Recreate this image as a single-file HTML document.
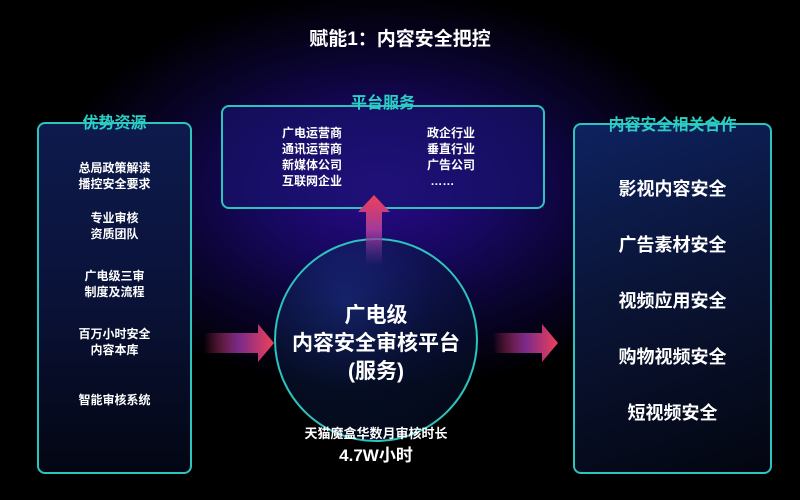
<!DOCTYPE html>
<html><head><meta charset="utf-8"><style>
*{margin:0;padding:0;box-sizing:border-box}
body{width:800px;height:500px;overflow:hidden;background:#000;font-family:"Liberation Sans","Noto Sans CJK SC",sans-serif;color:#fff;font-weight:bold}
#bg{position:absolute;left:0;top:0;width:800px;height:500px;background:radial-gradient(ellipse 330px 200px at 380px 190px,#2a0a8a 0%,#170860 35%,#0a0430 65%,#000 100%)}
.box{position:absolute;border:2px solid #2cc4bd;border-radius:8px}
.t{position:absolute;text-align:center;white-space:nowrap}
.h{color:#2ccfc5;font-size:16px}
</style></head><body>
<div id="bg"></div>
<div class="t" style="left:0;width:800px;top:24px;font-size:19px">赋能1：内容安全把控</div>

<div class="box" style="left:37px;top:122px;width:155px;height:352px;background:linear-gradient(180deg,#0d1a4c 0%,#0a1238 50%,#030612 100%)"></div>
<div class="t h" style="left:37px;width:155px;top:109px">优势资源</div>
<div class="t" style="left:37px;width:155px;top:160px;font-size:12px;line-height:16px">总局政策解读<br>播控安全要求</div>
<div class="t" style="left:37px;width:155px;top:210px;font-size:12px;line-height:16px">专业审核<br>资质团队</div>
<div class="t" style="left:37px;width:155px;top:268px;font-size:12px;line-height:16px">广电级三审<br>制度及流程</div>
<div class="t" style="left:37px;width:155px;top:326px;font-size:12px;line-height:16px">百万小时安全<br>内容本库</div>
<div class="t" style="left:37px;width:155px;top:392px;font-size:12px;line-height:16px">智能审核系统</div>

<div class="box" style="left:221px;top:105px;width:324px;height:104px;background:rgba(25,20,110,0.6)"></div>
<div class="t h" style="left:221px;width:324px;top:89px">平台服务</div>
<div class="t" style="left:282px;top:125px;font-size:12px;line-height:16px;text-align:left">广电运营商<br>通讯运营商<br>新媒体公司<br>互联网企业</div>
<div class="t" style="left:427px;top:125px;font-size:12px;line-height:16px;text-align:left">政企行业<br>垂直行业<br>广告公司<br>&nbsp;……</div>

<div class="box" style="left:573px;top:123px;width:199px;height:351px;background:linear-gradient(160deg,#0e2260 0%,#0a1436 45%,#030610 100%)"></div>
<div class="t h" style="left:573px;width:199px;top:111px">内容安全相关合作</div>
<div class="t" style="left:573px;width:199px;top:175px;font-size:18px">影视内容安全</div>
<div class="t" style="left:573px;width:199px;top:231px;font-size:18px">广告素材安全</div>
<div class="t" style="left:573px;width:199px;top:287px;font-size:18px">视频应用安全</div>
<div class="t" style="left:573px;width:199px;top:343px;font-size:18px">购物视频安全</div>
<div class="t" style="left:573px;width:199px;top:399px;font-size:18px">短视频安全</div>

<svg style="position:absolute;left:0;top:0" width="800" height="500">
<defs>
<linearGradient id="ah" x1="0" x2="1"><stop offset="0" stop-color="#e8365a" stop-opacity="0"/><stop offset="0.5" stop-color="#7a2a8a"/><stop offset="1" stop-color="#f0405a"/></linearGradient>
<linearGradient id="av" x1="0" y1="1" x2="0" y2="0"><stop offset="0" stop-color="#7a3aa0" stop-opacity="0"/><stop offset="0.5" stop-color="#a03a9a"/><stop offset="1" stop-color="#f0405a"/></linearGradient>
<radialGradient id="cg" cx="0.35" cy="0.3" r="0.75"><stop offset="0" stop-color="#1a3a8a" stop-opacity="0.55"/><stop offset="0.6" stop-color="#0a1a44" stop-opacity="0.5"/><stop offset="1" stop-color="#06102a" stop-opacity="0.6"/></radialGradient>
</defs>
<circle cx="376" cy="340" r="101" fill="url(#cg)" stroke="#2cc4bd" stroke-width="2"/>
<path d="M204 333 H258 V324 L274 343 L258 362 V353 H204 Z" fill="url(#ah)"/>
<path d="M493 333 H542 V324 L558 343 L542 362 V353 H493 Z" fill="url(#ah)"/>
<path d="M366 265 V212 H358 L374 195 L390 212 H382 V265 Z" fill="url(#av)"/>
</svg>
<div class="t" style="left:276px;width:200px;top:302px;font-size:21px;line-height:28px">广电级<br>内容安全审核平台<br>(服务)</div>
<div class="t" style="left:276px;width:200px;top:423px;font-size:13px">天猫魔盒华数月审核时长</div>
<div class="t" style="left:276px;width:200px;top:441px;font-size:17px">4.7W小时</div>
</body></html>
